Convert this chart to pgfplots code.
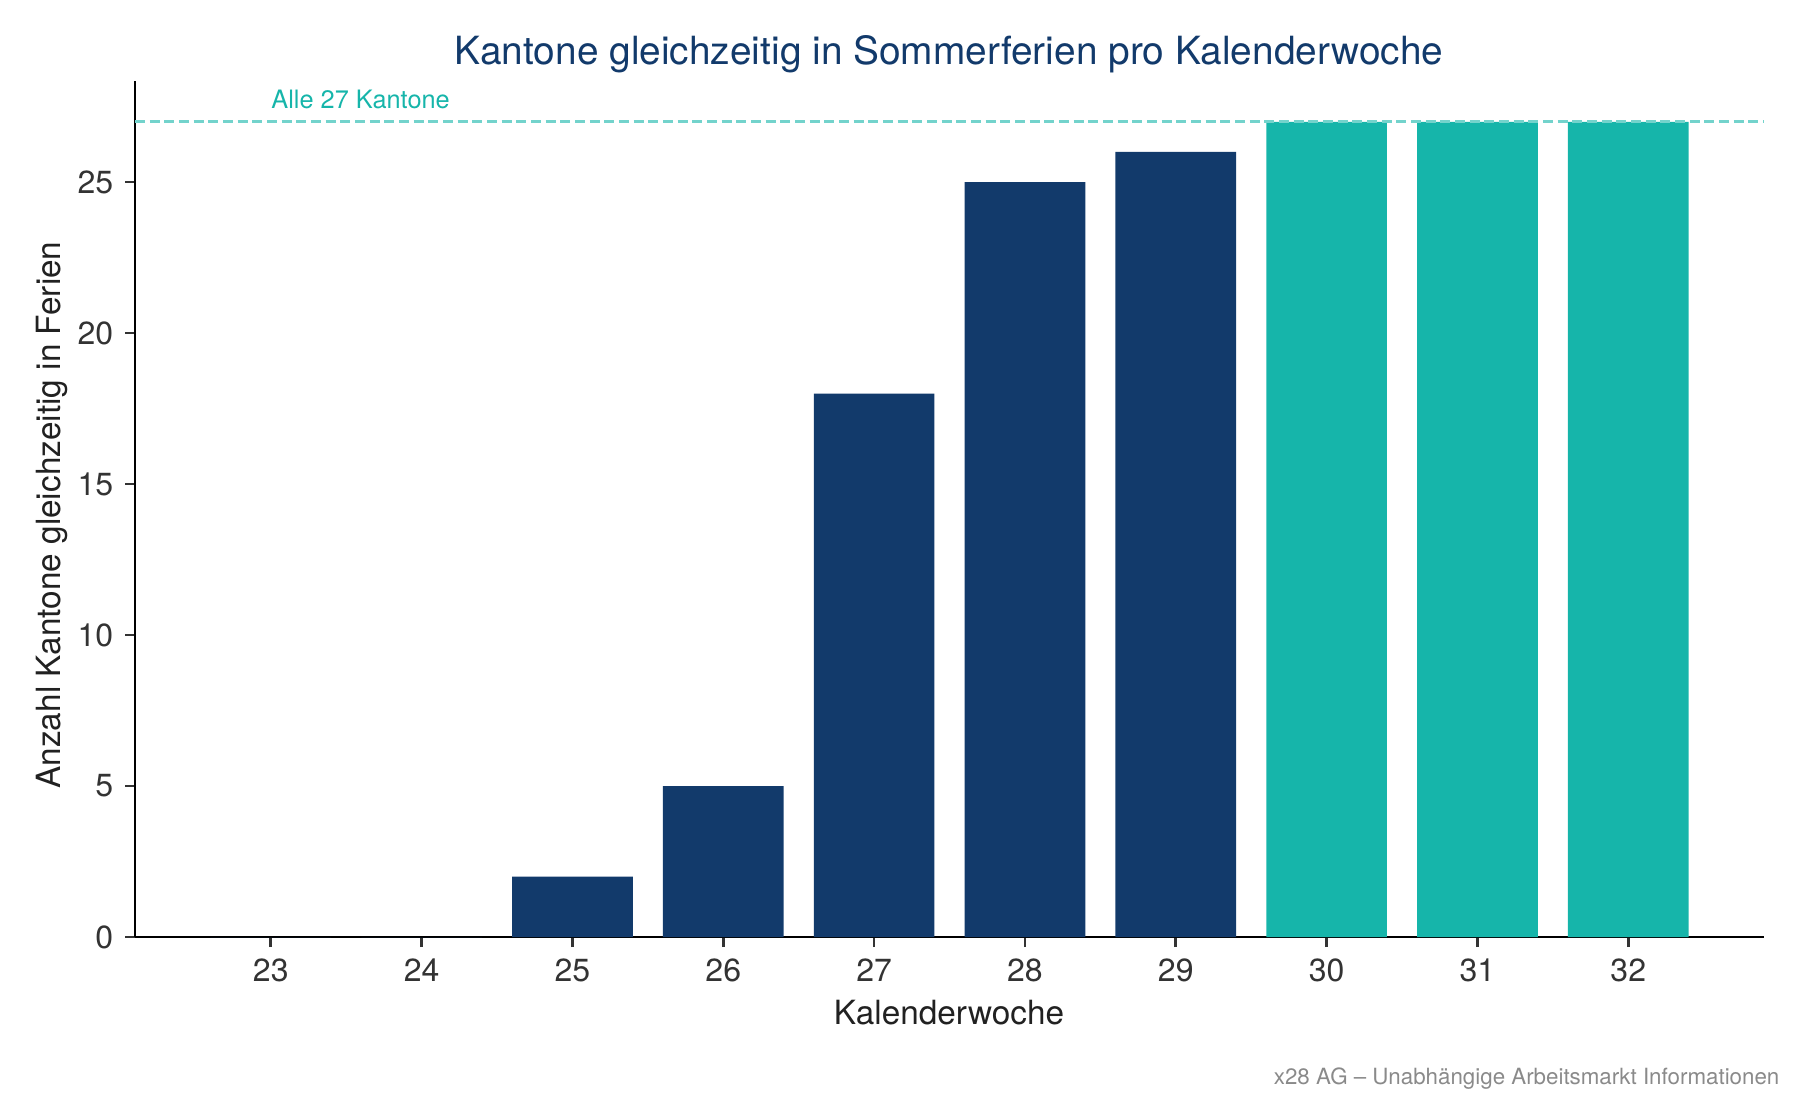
\documentclass[border=0pt]{standalone}
\usepackage{pgfplots}
\pgfplotsset{compat=1.18}
\usepackage{fontspec}
\setmainfont{TeX Gyre Heros}
\definecolor{navy}{HTML}{123A6B}
\definecolor{tealc}{HTML}{16B5AA}
\definecolor{tickgray}{HTML}{333333}
\definecolor{footgray}{HTML}{8A8A8A}
\begin{document}
\begin{tikzpicture}
\path[use as bounding box] (0,0) rectangle (540pt,330pt);
\begin{axis}[
  at={(40.5pt,48.9pt)}, anchor=south west,
  width=488.7pt, height=256.8pt, scale only axis,
  xmin=22.1, xmax=32.9, ymin=0, ymax=28.35,
  axis x line*=bottom, axis y line*=left,
  axis line style={line width=0.8pt, black, -},
  xtick={23,...,32}, ytick={0,5,...,25},
  tick align=outside, major tick length=3pt,
  tick style={line width=0.8pt, tickgray},
  /pgf/number format/assume math mode=true,
  ticklabel style={font=\fontsize{9.6}{11}\selectfont, text=tickgray},
  clip=false,
]
\addplot[ybar, bar width=0.8, bar shift=0pt, fill=navy, draw=none]
  coordinates {(23,0) (24,0) (25,2) (26,5) (27,18) (28,25) (29,26)};
\addplot[ybar, bar width=0.8, bar shift=0pt, fill=tealc, draw=none]
  coordinates {(30,27) (31,27) (32,27)};
\addplot[tealc!60, line width=0.9pt, dash pattern=on 3pt off 1.4pt]
  coordinates {(22.1,27) (32.9,27)};
\node[anchor=base west, text=tealc, font=\fontsize{7.6}{9}\selectfont, inner sep=0pt]
  at (axis cs:23,27) [yshift=3.9pt] {Alle 27 Kantone};
\end{axis}
\node[anchor=base, text=navy, font=\fontsize{11.65}{14}\selectfont, inner sep=0pt]
  at (284.7pt,310.5pt) {Kantone gleichzeitig in Sommerferien pro Kalenderwoche};
\node[anchor=base, text=black!87, font=\fontsize{10}{12}\selectfont, inner sep=0pt]
  at (284.7pt,22.8pt) {Kalenderwoche};
\node[anchor=base, rotate=90, text=black!87, font=\fontsize{10}{12}\selectfont, inner sep=0pt]
  at (18pt,175.5pt) {Anzahl Kantone gleichzeitig in Ferien};
\node[anchor=base east, text=footgray, font=\fontsize{6.7}{8}\selectfont, inner sep=0pt]
  at (534pt,4.8pt) {x28 AG – Unabhängige Arbeitsmarkt Informationen};
\end{tikzpicture}
\end{document}
